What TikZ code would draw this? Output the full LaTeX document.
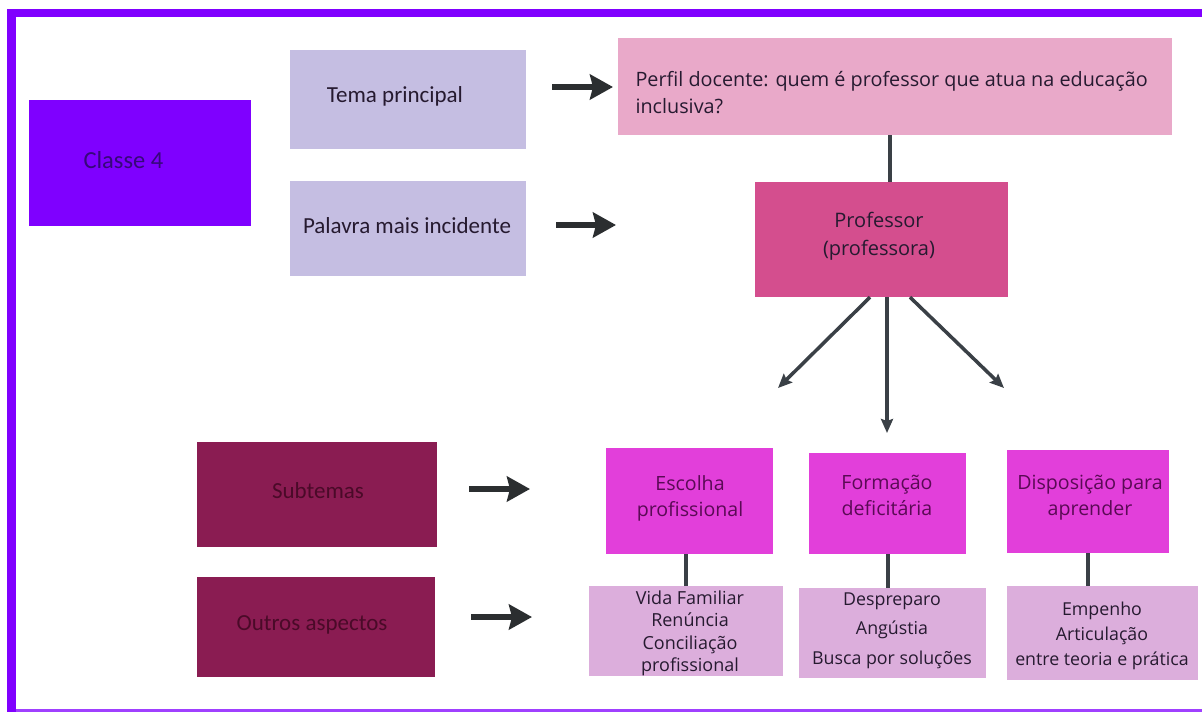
\documentclass[tikz,border=0pt]{standalone}
\usepackage{fontspec}
\setmainfont{Open Sans}
\newfontfamily\calfont{Carlito}
\usetikzlibrary{arrows.meta}
\definecolor{framec}{HTML}{8000FF}
\definecolor{classec}{HTML}{7F00FF}
\definecolor{classetxt}{HTML}{36087A}
\definecolor{lav}{HTML}{C5BEE2}
\definecolor{perfil}{HTML}{E9A9C9}
\definecolor{prof}{HTML}{D44E8E}
\definecolor{subt}{HTML}{8A1C52}
\definecolor{subttxt}{HTML}{4A0A28}
\definecolor{mag}{HTML}{E23FDA}
\definecolor{magtxt}{HTML}{5A0A55}
\definecolor{light}{HTML}{DCAEDC}
\definecolor{darktxt}{HTML}{261a30}
\definecolor{arrowc}{HTML}{2B2E30}
\definecolor{linec}{HTML}{3A4046}
\tikzset{
  box/.style={draw=none, inner sep=0pt},
  bigarrow/.style={arrowc, line width=6pt, -{Stealth[width=25pt,length=23pt,inset=3pt]}},
  thinarrow/.style={linec, line width=3.5pt, -{Stealth[width=12pt,length=14pt,inset=2pt]}},
  conn/.style={linec, line width=4pt},
  lefttxt/.style={font=\calfont\fontsize{23}{27}\selectfont, text=darktxt},
  righttxt/.style={font=\fontsize{19.8}{27}\selectfont, text=darktxt, align=center},
}
\begin{document}
\begin{tikzpicture}[x=1pt,y=-1pt]
\useasboundingbox (0,0) rectangle (1202,715);
\fill[white] (0,0) rectangle (1202,715);
% frame
\fill[framec] (7,9) rectangle (1202,17);
\fill[framec] (7,9) rectangle (16,712);
\fill[framec!75] (16,709) rectangle (1202,712);

% boxes
\node[box, fill=classec, minimum width=222pt, minimum height=126pt] (classe) at (140,163) {};
\node[box, fill=lav, minimum width=236pt, minimum height=99pt] (tema) at (408,99.5) {};
\node[box, fill=lav, minimum width=236pt, minimum height=95pt] (palavra) at (408,228.5) {};
\node[box, fill=perfil, minimum width=554pt, minimum height=97pt] (perfil) at (895,86.5) {};
\node[box, fill=prof, minimum width=253pt, minimum height=115pt] (professor) at (881.5,239.5) {};
\node[box, fill=subt, minimum width=240pt, minimum height=105pt] (subtemas) at (317,494.5) {};
\node[box, fill=subt, minimum width=238pt, minimum height=100pt] (outros) at (316,627) {};
\node[box, fill=mag, minimum width=167pt, minimum height=106pt] (escolha) at (689.5,501) {};
\node[box, fill=mag, minimum width=157pt, minimum height=101pt] (formacao) at (887.5,503.5) {};
\node[box, fill=mag, minimum width=162pt, minimum height=103pt] (disposicao) at (1088,501.5) {};
\node[box, fill=light, minimum width=194pt, minimum height=90pt] (vida) at (686,631) {};
\node[box, fill=light, minimum width=187pt, minimum height=90pt] (despreparo) at (892.5,633) {};
\node[box, fill=light, minimum width=191pt, minimum height=94pt] (empenho) at (1102.5,633) {};

% texts
\node[lefttxt, text=classetxt, anchor=west, font=\calfont\fontsize{24.5}{28}\selectfont] (tclasse) at (80,160) {Classe 4};
\node[lefttxt] (ttema) at (395,96) {Tema principal};
\node[lefttxt] (tpalavra) at (407,226) {Palavra mais incidente};
\node[lefttxt, text=subttxt] (tsub) at (318,491) {Subtemas};
\node[lefttxt, text=subttxt] (toutros) at (312,625) {Outros aspectos};
\node[righttxt, align=left, anchor=west] (tperfil) at (632,92.5) {Perfil docente: quem é professor que atua na educação\\inclusiva?};
\node[righttxt, font=\fontsize{20}{28}\selectfont] (tprof) at (879,236) {Professor\\(professora)};
\node[righttxt, text=magtxt, font=\fontsize{19.6}{26}\selectfont] (tesc) at (690,498) {Escolha\\profissional};
\node[righttxt, text=magtxt, font=\fontsize{19.6}{26}\selectfont] (tform) at (887,495) {Formação\\deficitária};
\node[righttxt, text=magtxt, font=\fontsize{19.6}{26}\selectfont] (tdisp) at (1090,498) {Disposição para\\aprender};
\node[righttxt, font=\fontsize{18}{22.5}\selectfont] (tvida) at (690,633.5) {Vida Familiar\\Renúncia\\Conciliação\\profissional};
\node[righttxt, font=\fontsize{17.8}{29.5}\selectfont] (tdesp) at (892,630.5) {Despreparo\\Angústia\\Busca por soluções};
\node[righttxt, font=\fontsize{17.8}{25}\selectfont] (temp) at (1102,636) {Empenho\\Articulação\\entre teoria e prática};

% left arrows
\coordinate (a1s) at (552,87);  \coordinate (a1e) at (613,87);
\coordinate (a2s) at (556,225); \coordinate (a2e) at (616,225);
\coordinate (a3s) at (469,489); \coordinate (a3e) at (530,489);
\coordinate (a4s) at (471,617); \coordinate (a4e) at (532,617);
\draw[bigarrow] (a1s) -- (a1e);
\draw[bigarrow] (a2s) -- (a2e);
\draw[bigarrow] (a3s) -- (a3e);
\draw[bigarrow] (a4s) -- (a4e);

% connectors
\draw[conn] ([xshift=-5pt]perfil.south) -- ([xshift=-5pt]perfil.south |- professor.north);
\coordinate (p1) at (778,388);
\coordinate (p2) at (887,433);
\coordinate (p3) at (1004,388);
\draw[thinarrow] ([xshift=-11.5pt]professor.south) -- (p1);
\draw[thinarrow] ([xshift=5.5pt]professor.south) -- (p2);
\draw[thinarrow] ([xshift=28.5pt]professor.south) -- (p3);
\draw[conn] (escolha.south -| vida.north) -- (vida.north);
\draw[conn] (formacao.south) -- (formacao.south |- despreparo.north);
\draw[conn] (disposicao.south) -- (disposicao.south |- empenho.north);
\end{tikzpicture}
\end{document}
